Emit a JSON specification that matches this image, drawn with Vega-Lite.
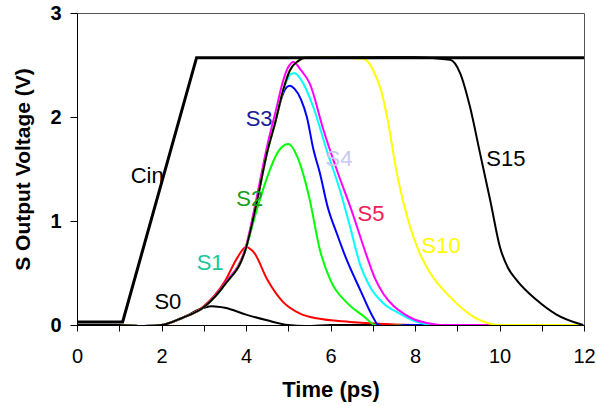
{
  "$schema": "https://vega.github.io/schema/vega-lite/v6.json",
  "width": 507,
  "height": 312,
  "autosize": {"type": "none"},
  "padding": {"left": 77, "top": 13, "right": 13, "bottom": 81},
  "background": "white",
  "config": {
    "view": {"stroke": "#555555", "strokeWidth": 1},
    "font": "Liberation Sans"
  },
  "datasets": {
    "curves": [
      {"s": "Cin", "t": 0, "v": 0.03}, {"s": "Cin", "t": 1.08, "v": 0.03}, {"s": "Cin", "t": 2.83, "v": 2.57}, {"s": "Cin", "t": 12, "v": 2.57},

      {"s": "S0", "t": 0, "v": 0}, {"s": "S0", "t": 1, "v": 0}, {"s": "S0", "t": 1.5, "v": -0.01}, {"s": "S0", "t": 2, "v": 0}, {"s": "S0", "t": 2.5, "v": 0.07}, {"s": "S0", "t": 3, "v": 0.165}, {"s": "S0", "t": 3.2, "v": 0.18}, {"s": "S0", "t": 3.5, "v": 0.165}, {"s": "S0", "t": 4, "v": 0.1}, {"s": "S0", "t": 4.5, "v": 0.045}, {"s": "S0", "t": 5, "v": 0.0}, {"s": "S0", "t": 5.5, "v": -0.01}, {"s": "S0", "t": 6, "v": 0}, {"s": "S0", "t": 12, "v": 0},

      {"s": "S1", "t": 0, "v": 0}, {"s": "S1", "t": 1, "v": 0}, {"s": "S1", "t": 1.5, "v": -0.01}, {"s": "S1", "t": 2, "v": 0}, {"s": "S1", "t": 2.5, "v": 0.07}, {"s": "S1", "t": 3, "v": 0.18}, {"s": "S1", "t": 3.5, "v": 0.42}, {"s": "S1", "t": 3.8, "v": 0.65}, {"s": "S1", "t": 4.0, "v": 0.75}, {"s": "S1", "t": 4.2, "v": 0.69}, {"s": "S1", "t": 4.5, "v": 0.44}, {"s": "S1", "t": 4.88, "v": 0.22}, {"s": "S1", "t": 5.28, "v": 0.11}, {"s": "S1", "t": 5.67, "v": 0.064}, {"s": "S1", "t": 6.46, "v": 0.03}, {"s": "S1", "t": 7.25, "v": 0.01}, {"s": "S1", "t": 8, "v": 0}, {"s": "S1", "t": 12, "v": 0},

      {"s": "S2", "t": 0, "v": 0}, {"s": "S2", "t": 1, "v": 0}, {"s": "S2", "t": 1.5, "v": -0.01}, {"s": "S2", "t": 2, "v": 0}, {"s": "S2", "t": 2.5, "v": 0.07}, {"s": "S2", "t": 3, "v": 0.17}, {"s": "S2", "t": 3.5, "v": 0.39}, {"s": "S2", "t": 4.0, "v": 0.74}, {"s": "S2", "t": 4.25, "v": 1.1}, {"s": "S2", "t": 4.5, "v": 1.42}, {"s": "S2", "t": 4.75, "v": 1.66}, {"s": "S2", "t": 5.0, "v": 1.74}, {"s": "S2", "t": 5.25, "v": 1.58}, {"s": "S2", "t": 5.5, "v": 1.22}, {"s": "S2", "t": 5.75, "v": 0.72}, {"s": "S2", "t": 6.0, "v": 0.43}, {"s": "S2", "t": 6.4, "v": 0.21}, {"s": "S2", "t": 6.8, "v": 0.08}, {"s": "S2", "t": 7.05, "v": 0}, {"s": "S2", "t": 7.3, "v": -0.01}, {"s": "S2", "t": 8, "v": 0}, {"s": "S2", "t": 12, "v": 0},

      {"s": "S3", "t": 0, "v": 0}, {"s": "S3", "t": 1, "v": 0}, {"s": "S3", "t": 1.5, "v": -0.01}, {"s": "S3", "t": 2, "v": 0}, {"s": "S3", "t": 2.5, "v": 0.07}, {"s": "S3", "t": 3, "v": 0.17}, {"s": "S3", "t": 3.5, "v": 0.39}, {"s": "S3", "t": 4.0, "v": 0.74}, {"s": "S3", "t": 4.25, "v": 1.17}, {"s": "S3", "t": 4.5, "v": 1.66}, {"s": "S3", "t": 4.7, "v": 1.96}, {"s": "S3", "t": 4.84, "v": 2.18}, {"s": "S3", "t": 4.93, "v": 2.27}, {"s": "S3", "t": 5.03, "v": 2.3}, {"s": "S3", "t": 5.15, "v": 2.27}, {"s": "S3", "t": 5.3, "v": 2.17}, {"s": "S3", "t": 5.44, "v": 2.0}, {"s": "S3", "t": 5.6, "v": 1.68}, {"s": "S3", "t": 5.75, "v": 1.46}, {"s": "S3", "t": 5.93, "v": 1.14}, {"s": "S3", "t": 6.15, "v": 0.88}, {"s": "S3", "t": 6.38, "v": 0.63}, {"s": "S3", "t": 6.7, "v": 0.34}, {"s": "S3", "t": 7.0, "v": 0.08}, {"s": "S3", "t": 7.13, "v": 0}, {"s": "S3", "t": 7.4, "v": -0.02}, {"s": "S3", "t": 7.8, "v": 0}, {"s": "S3", "t": 12, "v": 0},

      {"s": "S4", "t": 0, "v": 0}, {"s": "S4", "t": 1, "v": 0}, {"s": "S4", "t": 1.5, "v": -0.01}, {"s": "S4", "t": 2, "v": 0}, {"s": "S4", "t": 2.5, "v": 0.07}, {"s": "S4", "t": 3, "v": 0.17}, {"s": "S4", "t": 3.5, "v": 0.39}, {"s": "S4", "t": 4.0, "v": 0.74}, {"s": "S4", "t": 4.25, "v": 1.17}, {"s": "S4", "t": 4.5, "v": 1.66}, {"s": "S4", "t": 4.7, "v": 1.96}, {"s": "S4", "t": 4.88, "v": 2.26}, {"s": "S4", "t": 4.98, "v": 2.36}, {"s": "S4", "t": 5.05, "v": 2.41}, {"s": "S4", "t": 5.15, "v": 2.42}, {"s": "S4", "t": 5.3, "v": 2.36}, {"s": "S4", "t": 5.59, "v": 2.1}, {"s": "S4", "t": 5.91, "v": 1.68}, {"s": "S4", "t": 6.22, "v": 1.3}, {"s": "S4", "t": 6.46, "v": 0.95}, {"s": "S4", "t": 6.7, "v": 0.58}, {"s": "S4", "t": 6.93, "v": 0.37}, {"s": "S4", "t": 7.25, "v": 0.21}, {"s": "S4", "t": 7.64, "v": 0.11}, {"s": "S4", "t": 8.04, "v": 0.03}, {"s": "S4", "t": 8.5, "v": 0}, {"s": "S4", "t": 12, "v": 0},

      {"s": "S5", "t": 0, "v": 0}, {"s": "S5", "t": 1, "v": 0}, {"s": "S5", "t": 1.5, "v": -0.01}, {"s": "S5", "t": 2, "v": 0}, {"s": "S5", "t": 2.5, "v": 0.07}, {"s": "S5", "t": 3, "v": 0.17}, {"s": "S5", "t": 3.5, "v": 0.4}, {"s": "S5", "t": 4.0, "v": 0.76}, {"s": "S5", "t": 4.25, "v": 1.22}, {"s": "S5", "t": 4.5, "v": 1.72}, {"s": "S5", "t": 4.7, "v": 2.05}, {"s": "S5", "t": 4.88, "v": 2.35}, {"s": "S5", "t": 5.0, "v": 2.48}, {"s": "S5", "t": 5.12, "v": 2.53}, {"s": "S5", "t": 5.3, "v": 2.45}, {"s": "S5", "t": 5.51, "v": 2.32}, {"s": "S5", "t": 5.83, "v": 1.88}, {"s": "S5", "t": 6.15, "v": 1.49}, {"s": "S5", "t": 6.5, "v": 1.1}, {"s": "S5", "t": 6.86, "v": 0.66}, {"s": "S5", "t": 7.05, "v": 0.45}, {"s": "S5", "t": 7.25, "v": 0.3}, {"s": "S5", "t": 7.5, "v": 0.18}, {"s": "S5", "t": 7.73, "v": 0.11}, {"s": "S5", "t": 8.0, "v": 0.05}, {"s": "S5", "t": 8.28, "v": 0.02}, {"s": "S5", "t": 8.6, "v": 0}, {"s": "S5", "t": 12, "v": 0},

      {"s": "S10", "t": 0, "v": 0}, {"s": "S10", "t": 1, "v": 0}, {"s": "S10", "t": 1.5, "v": -0.01}, {"s": "S10", "t": 2, "v": 0}, {"s": "S10", "t": 2.5, "v": 0.07}, {"s": "S10", "t": 3, "v": 0.17}, {"s": "S10", "t": 3.5, "v": 0.39}, {"s": "S10", "t": 4.0, "v": 0.74}, {"s": "S10", "t": 4.25, "v": 1.17}, {"s": "S10", "t": 4.5, "v": 1.66}, {"s": "S10", "t": 4.7, "v": 1.96}, {"s": "S10", "t": 4.88, "v": 2.26}, {"s": "S10", "t": 5.04, "v": 2.45}, {"s": "S10", "t": 5.24, "v": 2.54}, {"s": "S10", "t": 5.4, "v": 2.57}, {"s": "S10", "t": 6.0, "v": 2.575}, {"s": "S10", "t": 6.78, "v": 2.56}, {"s": "S10", "t": 7.01, "v": 2.45}, {"s": "S10", "t": 7.2, "v": 2.25}, {"s": "S10", "t": 7.33, "v": 2.02}, {"s": "S10", "t": 7.57, "v": 1.46}, {"s": "S10", "t": 7.88, "v": 0.95}, {"s": "S10", "t": 8.1, "v": 0.7}, {"s": "S10", "t": 8.36, "v": 0.5}, {"s": "S10", "t": 8.83, "v": 0.27}, {"s": "S10", "t": 9.38, "v": 0.08}, {"s": "S10", "t": 10.0, "v": 0}, {"s": "S10", "t": 12, "v": 0},

      {"s": "S15", "t": 0, "v": 0}, {"s": "S15", "t": 1, "v": 0}, {"s": "S15", "t": 1.5, "v": -0.01}, {"s": "S15", "t": 2, "v": 0}, {"s": "S15", "t": 2.5, "v": 0.07}, {"s": "S15", "t": 3, "v": 0.17}, {"s": "S15", "t": 3.5, "v": 0.39}, {"s": "S15", "t": 4.0, "v": 0.74}, {"s": "S15", "t": 4.25, "v": 1.17}, {"s": "S15", "t": 4.5, "v": 1.66}, {"s": "S15", "t": 4.7, "v": 1.96}, {"s": "S15", "t": 4.88, "v": 2.26}, {"s": "S15", "t": 5.04, "v": 2.45}, {"s": "S15", "t": 5.24, "v": 2.54}, {"s": "S15", "t": 5.4, "v": 2.57}, {"s": "S15", "t": 8.0, "v": 2.575}, {"s": "S15", "t": 8.83, "v": 2.55}, {"s": "S15", "t": 9.07, "v": 2.42}, {"s": "S15", "t": 9.3, "v": 2.1}, {"s": "S15", "t": 9.54, "v": 1.65}, {"s": "S15", "t": 9.78, "v": 1.2}, {"s": "S15", "t": 10.01, "v": 0.75}, {"s": "S15", "t": 10.2, "v": 0.55}, {"s": "S15", "t": 10.41, "v": 0.43}, {"s": "S15", "t": 10.88, "v": 0.24}, {"s": "S15", "t": 11.35, "v": 0.1}, {"s": "S15", "t": 11.98, "v": 0.0}
    ],
    "labels": [
      {"label": "Cin", "t": 1.66, "v": 1.43},
      {"label": "S0", "t": 2.15, "v": 0.22},
      {"label": "S1", "t": 3.15, "v": 0.6},
      {"label": "S2", "t": 4.09, "v": 1.21},
      {"label": "S3", "t": 4.31, "v": 1.98},
      {"label": "S4", "t": 6.2, "v": 1.6},
      {"label": "S5", "t": 6.96, "v": 1.07},
      {"label": "S10", "t": 8.62, "v": 0.76},
      {"label": "S15", "t": 10.15, "v": 1.6}
    ]
  },
  "encoding": {
    "x": {
      "field": "t", "type": "quantitative",
      "scale": {"domain": [0, 12], "nice": false, "zero": false},
      "axis": {
        "title": "Time (ps)",
        "values": [0, 1, 2, 3, 4, 5, 6, 7, 8, 9, 10, 11, 12],
        "labelExpr": "datum.value % 2 == 0 ? datum.label : ''",
        "grid": false,
        "domainColor": "black", "tickColor": "black", "tickSize": 6,
        "labelFont": "Liberation Sans", "labelFontSize": 20, "labelColor": "black",
        "labelPadding": 15, "labelFlush": false, "labelOverlap": false,
        "titleFont": "Liberation Sans", "titleFontSize": 22, "titleFontWeight": "bold", "titleColor": "black",
        "titlePadding": 13
      }
    },
    "y": {
      "field": "v", "type": "quantitative",
      "scale": {"domain": [0, 3], "nice": false, "zero": false},
      "axis": {
        "title": "S Output Voltage (V)",
        "values": [0, 1, 2, 3],
        "grid": false,
        "domainColor": "black", "tickColor": "black", "tickSize": 7,
        "labelFont": "Liberation Sans", "labelFontSize": 20, "labelFontWeight": "bold", "labelColor": "black",
        "labelPadding": 9, "labelFlush": false,
        "titleFont": "Liberation Sans", "titleFontSize": 21, "titleFontWeight": "bold", "titleColor": "black",
        "titlePadding": 16
      }
    }
  },
  "layer": [
    {
      "data": {"name": "curves"},
      "transform": [{"filter": "datum.s != 'Cin'"}],
      "mark": {"type": "line", "interpolate": "monotone", "strokeWidth": 2, "clip": true},
      "encoding": {
        "color": {
          "field": "s", "type": "nominal", "legend": null,
          "scale": {
            "domain": ["S0", "S1", "S2", "S3", "S4", "S5", "S10", "S15"],
            "range": ["#000000", "#ff0000", "#00ff00", "#0000ff", "#00ffff", "#ff00ff", "#ffff00", "#000000"]
          }
        },
        "order": {"field": "s", "type": "nominal"}
      }
    },
    {
      "data": {"name": "curves"},
      "transform": [{"filter": "datum.s == 'Cin'"}],
      "mark": {"type": "line", "interpolate": "linear", "strokeWidth": 3, "color": "black", "clip": true},
      "encoding": {}
    },
    {
      "data": {"name": "labels"},
      "mark": {"type": "text", "font": "Liberation Sans", "fontSize": 22, "align": "center", "baseline": "middle"},
      "encoding": {
        "text": {"field": "label", "type": "nominal"},
        "color": {
          "field": "label", "type": "nominal", "legend": null,
          "scale": {
            "domain": ["Cin", "S0", "S1", "S2", "S3", "S4", "S5", "S10", "S15"],
            "range": ["#000000", "#000000", "#19c79b", "#1a9e1a", "#1a1a9a", "#c8c8f0", "#f0205a", "#ffff00", "#000000"]
          }
        }
      }
    }
  ],
  "resolve": {"scale": {"color": "independent"}}
}
